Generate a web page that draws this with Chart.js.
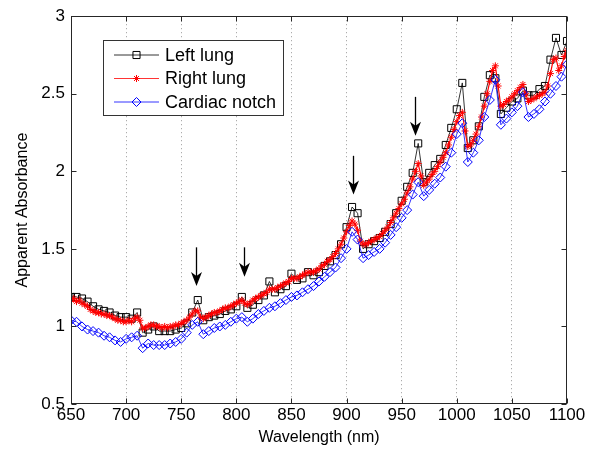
<!DOCTYPE html>
<html>
<head>
<meta charset="utf-8">
<script src="https://cdn.jsdelivr.net/npm/chart.js@4"></script>
<style>
  body { margin: 0; background: #fff; }
  canvas { display: block; }
</style>
</head>
<body>
<canvas id="spectra" width="606" height="450"></canvas>
<script>
// wavelength grids (nm)
const wlCoarse = [
  650, 655, 660, 665, 670, 675, 680, 685, 690, 695,
  700, 705, 710, 715, 720, 725, 730, 735, 740, 745,
  750, 755, 760, 765, 770, 775, 780, 785, 790, 795,
  800, 805, 810, 815, 820, 825, 830, 835, 840, 845,
  850, 855, 860, 865, 870, 875, 880, 885, 890, 895,
  900, 905, 910, 915, 920, 925, 930, 935, 940, 945,
  950, 955, 960, 965, 970, 975, 980, 985, 990, 995,
  1000, 1005, 1010, 1015, 1020, 1025, 1030, 1035, 1040, 1045,
  1050, 1055, 1060, 1065, 1070, 1075, 1080, 1085, 1090, 1095,
  1100
];
const wlFine = [
  650, 652.5, 655, 657.5, 660, 662.5, 665, 667.5, 670, 672.5,
  675, 677.5, 680, 682.5, 685, 687.5, 690, 692.5, 695, 697.5,
  700, 702.5, 705, 707.5, 710, 712.5, 715, 717.5, 720, 722.5,
  725, 727.5, 730, 732.5, 735, 737.5, 740, 742.5, 745, 747.5,
  750, 752.5, 755, 757.5, 760, 762.5, 765, 767.5, 770, 772.5,
  775, 777.5, 780, 782.5, 785, 787.5, 790, 792.5, 795, 797.5,
  800, 802.5, 805, 807.5, 810, 812.5, 815, 817.5, 820, 822.5,
  825, 827.5, 830, 832.5, 835, 837.5, 840, 842.5, 845, 847.5,
  850, 852.5, 855, 857.5, 860, 862.5, 865, 867.5, 870, 872.5,
  875, 877.5, 880, 882.5, 885, 887.5, 890, 892.5, 895, 897.5,
  900, 902.5, 905, 907.5, 910, 912.5, 915, 917.5, 920, 922.5,
  925, 927.5, 930, 932.5, 935, 937.5, 940, 942.5, 945, 947.5,
  950, 952.5, 955, 957.5, 960, 962.5, 965, 967.5, 970, 972.5,
  975, 977.5, 980, 982.5, 985, 987.5, 990, 992.5, 995, 997.5,
  1000, 1002.5, 1005, 1007.5, 1010, 1012.5, 1015, 1017.5, 1020, 1022.5,
  1025, 1027.5, 1030, 1032.5, 1035, 1037.5, 1040, 1042.5, 1045, 1047.5,
  1050, 1052.5, 1055, 1057.5, 1060, 1062.5, 1065, 1067.5, 1070, 1072.5,
  1075, 1077.5, 1080, 1082.5, 1085, 1087.5, 1090, 1092.5, 1095, 1097.5,
  1100
];

// apparent absorbance per region
const leftLung = [
  1.19, 1.19, 1.18, 1.16, 1.13, 1.11, 1.10, 1.09, 1.07, 1.06,
  1.06, 1.05, 1.09, 0.96, 0.98, 1.00, 0.97, 0.97, 0.97, 0.98,
  0.99, 1.02, 1.09, 1.17, 1.04, 1.06, 1.07, 1.08, 1.10, 1.11,
  1.13, 1.19, 1.12, 1.14, 1.17, 1.20, 1.29, 1.22, 1.24, 1.26,
  1.34, 1.30, 1.31, 1.35, 1.33, 1.35, 1.39, 1.42, 1.46, 1.53,
  1.64, 1.77, 1.73, 1.50, 1.53, 1.55, 1.57, 1.61, 1.66, 1.73,
  1.81, 1.90, 1.99, 2.18, 1.93, 1.99, 2.04, 2.08, 2.17, 2.28,
  2.40, 2.57, 2.15, 2.20, 2.29, 2.48, 2.62, 2.60, 2.37, 2.41,
  2.45, 2.47, 2.52, 2.49, 2.49, 2.53, 2.55, 2.72, 2.86, 2.75,
  2.84
];
const rightLung = [
  1.17, 1.18, 1.16, 1.17, 1.15, 1.14, 1.13, 1.11, 1.10, 1.09,
  1.09, 1.08, 1.08, 1.07, 1.07, 1.06, 1.05, 1.04, 1.04, 1.03,
  1.03, 1.04, 1.03, 1.05, 1.06, 1.04, 0.99, 0.99, 1.00, 1.01,
  1.01, 1.00, 1.00, 0.99, 1.00, 0.99, 1.00, 1.00, 1.01, 1.01,
  1.02, 1.03, 1.04, 1.06, 1.08, 1.10, 1.10, 1.06, 1.05, 1.06,
  1.07, 1.08, 1.09, 1.09, 1.10, 1.11, 1.12, 1.12, 1.13, 1.14,
  1.15, 1.16, 1.17, 1.15, 1.14, 1.15, 1.17, 1.18, 1.19, 1.20,
  1.21, 1.22, 1.24, 1.24, 1.24, 1.25, 1.26, 1.27, 1.28, 1.29,
  1.31, 1.31, 1.31, 1.32, 1.33, 1.34, 1.35, 1.35, 1.35, 1.36,
  1.37, 1.39, 1.40, 1.42, 1.43, 1.45, 1.47, 1.50, 1.53, 1.57,
  1.61, 1.65, 1.68, 1.66, 1.62, 1.55, 1.53, 1.53, 1.54, 1.55,
  1.56, 1.57, 1.58, 1.60, 1.62, 1.64, 1.67, 1.70, 1.73, 1.76,
  1.79, 1.82, 1.86, 1.90, 1.95, 2.00, 2.05, 1.97, 1.91, 1.93,
  1.95, 1.98, 2.00, 2.03, 2.06, 2.09, 2.12, 2.17, 2.22, 2.27,
  2.32, 2.36, 2.38, 2.26, 2.16, 2.17, 2.20, 2.24, 2.29, 2.35,
  2.42, 2.50, 2.58, 2.65, 2.68, 2.55, 2.42, 2.43, 2.45, 2.46,
  2.48, 2.50, 2.52, 2.54, 2.56, 2.50, 2.45, 2.46, 2.47, 2.48,
  2.49, 2.50, 2.51, 2.55, 2.63, 2.72, 2.73, 2.65, 2.68, 2.74,
  2.78
];
const cardiacNotch = [
  1.04, 1.03, 1.00, 0.98, 0.97, 0.96, 0.94, 0.93, 0.91, 0.90,
  0.92, 0.93, 0.94, 0.86, 0.89, 0.88, 0.88, 0.88, 0.89, 0.90,
  0.92, 0.96, 1.01, 1.03, 0.95, 0.97, 0.99, 1.00, 1.01, 1.03,
  1.05, 1.06, 1.03, 1.05, 1.08, 1.10, 1.12, 1.13, 1.15, 1.17,
  1.19, 1.20, 1.22, 1.24, 1.26, 1.29, 1.32, 1.35, 1.38, 1.44,
  1.50, 1.61, 1.56, 1.44, 1.46, 1.48, 1.50, 1.54, 1.59, 1.64,
  1.70, 1.75, 1.85, 1.93, 1.84, 1.88, 1.92, 1.96, 2.03, 2.12,
  2.24, 2.31, 2.06, 2.12, 2.20, 2.35, 2.46, 2.59, 2.30, 2.34,
  2.38, 2.42, 2.51, 2.35, 2.37, 2.40, 2.45, 2.50, 2.55, 2.61,
  2.69
];

// arrows marking absorption features: wavelength, tail and tip absorbance
const arrowMarks = [
  { wl: 763, from: 1.51, to: 1.26 },
  { wl: 807, from: 1.51, to: 1.32 },
  { wl: 906, from: 2.10, to: 1.85 },
  { wl: 962, from: 2.48, to: 2.23 }
];

const FONT = '"Liberation Sans", Arial, Helvetica, sans-serif';

const pairs = (xs, ys) => xs.map((x, i) => ({ x, y: ys[i] }));

const series = [
  { label: 'Left lung', data: pairs(wlCoarse, leftLung), borderColor: '#000000',
    pointStyle: 'rect', pointRadius: 5, borderWidth: 0.8, order: 3 },
  { label: 'Right lung', data: pairs(wlFine, rightLung), borderColor: '#ff0000',
    pointStyle: 'star', pointRadius: 3.5, borderWidth: 1.2, order: 2 },
  { label: 'Cardiac notch', data: pairs(wlCoarse, cardiacNotch), borderColor: '#0000ff',
    pointStyle: 'rectRot', pointRadius: 4.5, borderWidth: 0.8, order: 1 }
].map(s => ({
  ...s,
  backgroundColor: 'rgba(0,0,0,0)',
  pointBorderColor: s.borderColor,
  pointBackgroundColor: 'rgba(0,0,0,0)',
  pointBorderWidth: 1,
  fill: false,
  tension: 0
}));

// box, inward ticks, arrows and the boxed legend
const decorations = {
  id: 'decorations',
  afterDatasetsDraw(chart) {
    const { ctx, chartArea: a, scales: { x, y } } = chart;
    ctx.save();

    // arrows
    ctx.strokeStyle = '#000';
    ctx.fillStyle = '#000';
    arrowMarks.forEach(m => {
      const px = Math.round(x.getPixelForValue(m.wl)) + 0.5;
      const y1 = y.getPixelForValue(m.from);
      const y2 = y.getPixelForValue(m.to);
      ctx.lineWidth = 1.3;
      ctx.beginPath();
      ctx.moveTo(px, y1);
      ctx.lineTo(px, y2 - 8);
      ctx.stroke();
      ctx.beginPath();
      ctx.moveTo(px, y2);
      ctx.lineTo(px - 5.5, y2 - 14);
      ctx.lineTo(px, y2 - 10);
      ctx.lineTo(px + 5.5, y2 - 14);
      ctx.closePath();
      ctx.fill();
    });

    // axes box
    ctx.strokeStyle = '#262626';
    ctx.lineWidth = 1;
    const l = Math.round(a.left) + 0.5, r = Math.round(a.right) - 0.5;
    const t = Math.round(a.top) + 0.5, b = Math.round(a.bottom) - 0.5;
    ctx.strokeRect(l, t, r - l, b - t);

    // tick marks pointing into the plot
    const tl = 5;
    ctx.beginPath();
    x.ticks.forEach(tk => {
      const px = Math.round(x.getPixelForValue(tk.value)) + 0.5;
      ctx.moveTo(px, b); ctx.lineTo(px, b - tl);
      ctx.moveTo(px, t); ctx.lineTo(px, t + tl);
    });
    y.ticks.forEach(tk => {
      const py = Math.round(y.getPixelForValue(tk.value)) + 0.5;
      ctx.moveTo(l, py); ctx.lineTo(l + tl, py);
      ctx.moveTo(r, py); ctx.lineTo(r - tl, py);
    });
    ctx.stroke();

    // legend
    const box = { left: 103.5, top: 40.5, width: 180, height: 75 };
    ctx.fillStyle = '#fff';
    ctx.fillRect(box.left, box.top, box.width, box.height);
    ctx.strokeStyle = '#333';
    ctx.strokeRect(box.left, box.top, box.width, box.height);
    ctx.font = '18px ' + FONT;
    ctx.textBaseline = 'middle';
    ctx.textAlign = 'left';
    chart.data.datasets.forEach((ds, i) => {
      const cy = 55 + i * 23.5;
      ctx.strokeStyle = ds.borderColor;
      ctx.lineWidth = 0.8;
      ctx.beginPath();
      ctx.moveTo(114, cy);
      ctx.lineTo(159, cy);
      ctx.stroke();
      ctx.lineWidth = 1;
      ctx.fillStyle = 'rgba(0,0,0,0)';
      Chart.helpers.drawPoint(ctx, {
        pointStyle: ds.pointStyle, radius: ds.pointRadius, rotation: 0, borderWidth: 1
      }, 136.5, cy);
      ctx.fillStyle = '#000';
      ctx.fillText(ds.label, 165, cy + 1);
    });

    ctx.restore();
  }
};

new Chart(document.getElementById('spectra'), {
  type: 'line',
  data: { datasets: series },
  plugins: [decorations],
  options: {
    responsive: false,
    devicePixelRatio: 1,
    animation: false,
    events: [],
    layout: { padding: { top: 12, right: 39, left: 0, bottom: 0 } },
    plugins: { legend: { display: false }, tooltip: { enabled: false } },
    scales: {
      x: {
        type: 'linear',
        min: 650,
        max: 1100,
        afterFit: s => { s.height = 46; },
        ticks: {
          stepSize: 50,
          color: '#000',
          font: { family: FONT, size: 17 },
          padding: 1,
          maxRotation: 0,
          callback: v => String(v)
        },
        grid: {
          drawTicks: false,
          color: ctx => (ctx.tick && (ctx.tick.value === 650 || ctx.tick.value === 1100)) ? 'rgba(0,0,0,0)' : '#9a9a9a',
          lineWidth: 1
        },
        border: { display: false, dash: [1, 3] },
        title: {
          display: true,
          text: 'Wavelength (nm)',
          color: '#000',
          font: { family: FONT, size: 16 },
          padding: { top: 0, bottom: 3 }
        }
      },
      y: {
        min: 0.5,
        max: 3,
        afterFit: s => { s.width = 71; },
        ticks: {
          stepSize: 0.5,
          color: '#000',
          font: { family: FONT, size: 17 },
          padding: 6,
          callback: v => String(v)
        },
        grid: { display: false, drawTicks: false },
        border: { display: false },
        title: {
          display: true,
          text: 'Apparent Absorbance',
          color: '#000',
          font: { family: FONT, size: 16 },
          padding: { top: 13, bottom: 0 }
        }
      }
    }
  }
});
</script>
</body>
</html>
